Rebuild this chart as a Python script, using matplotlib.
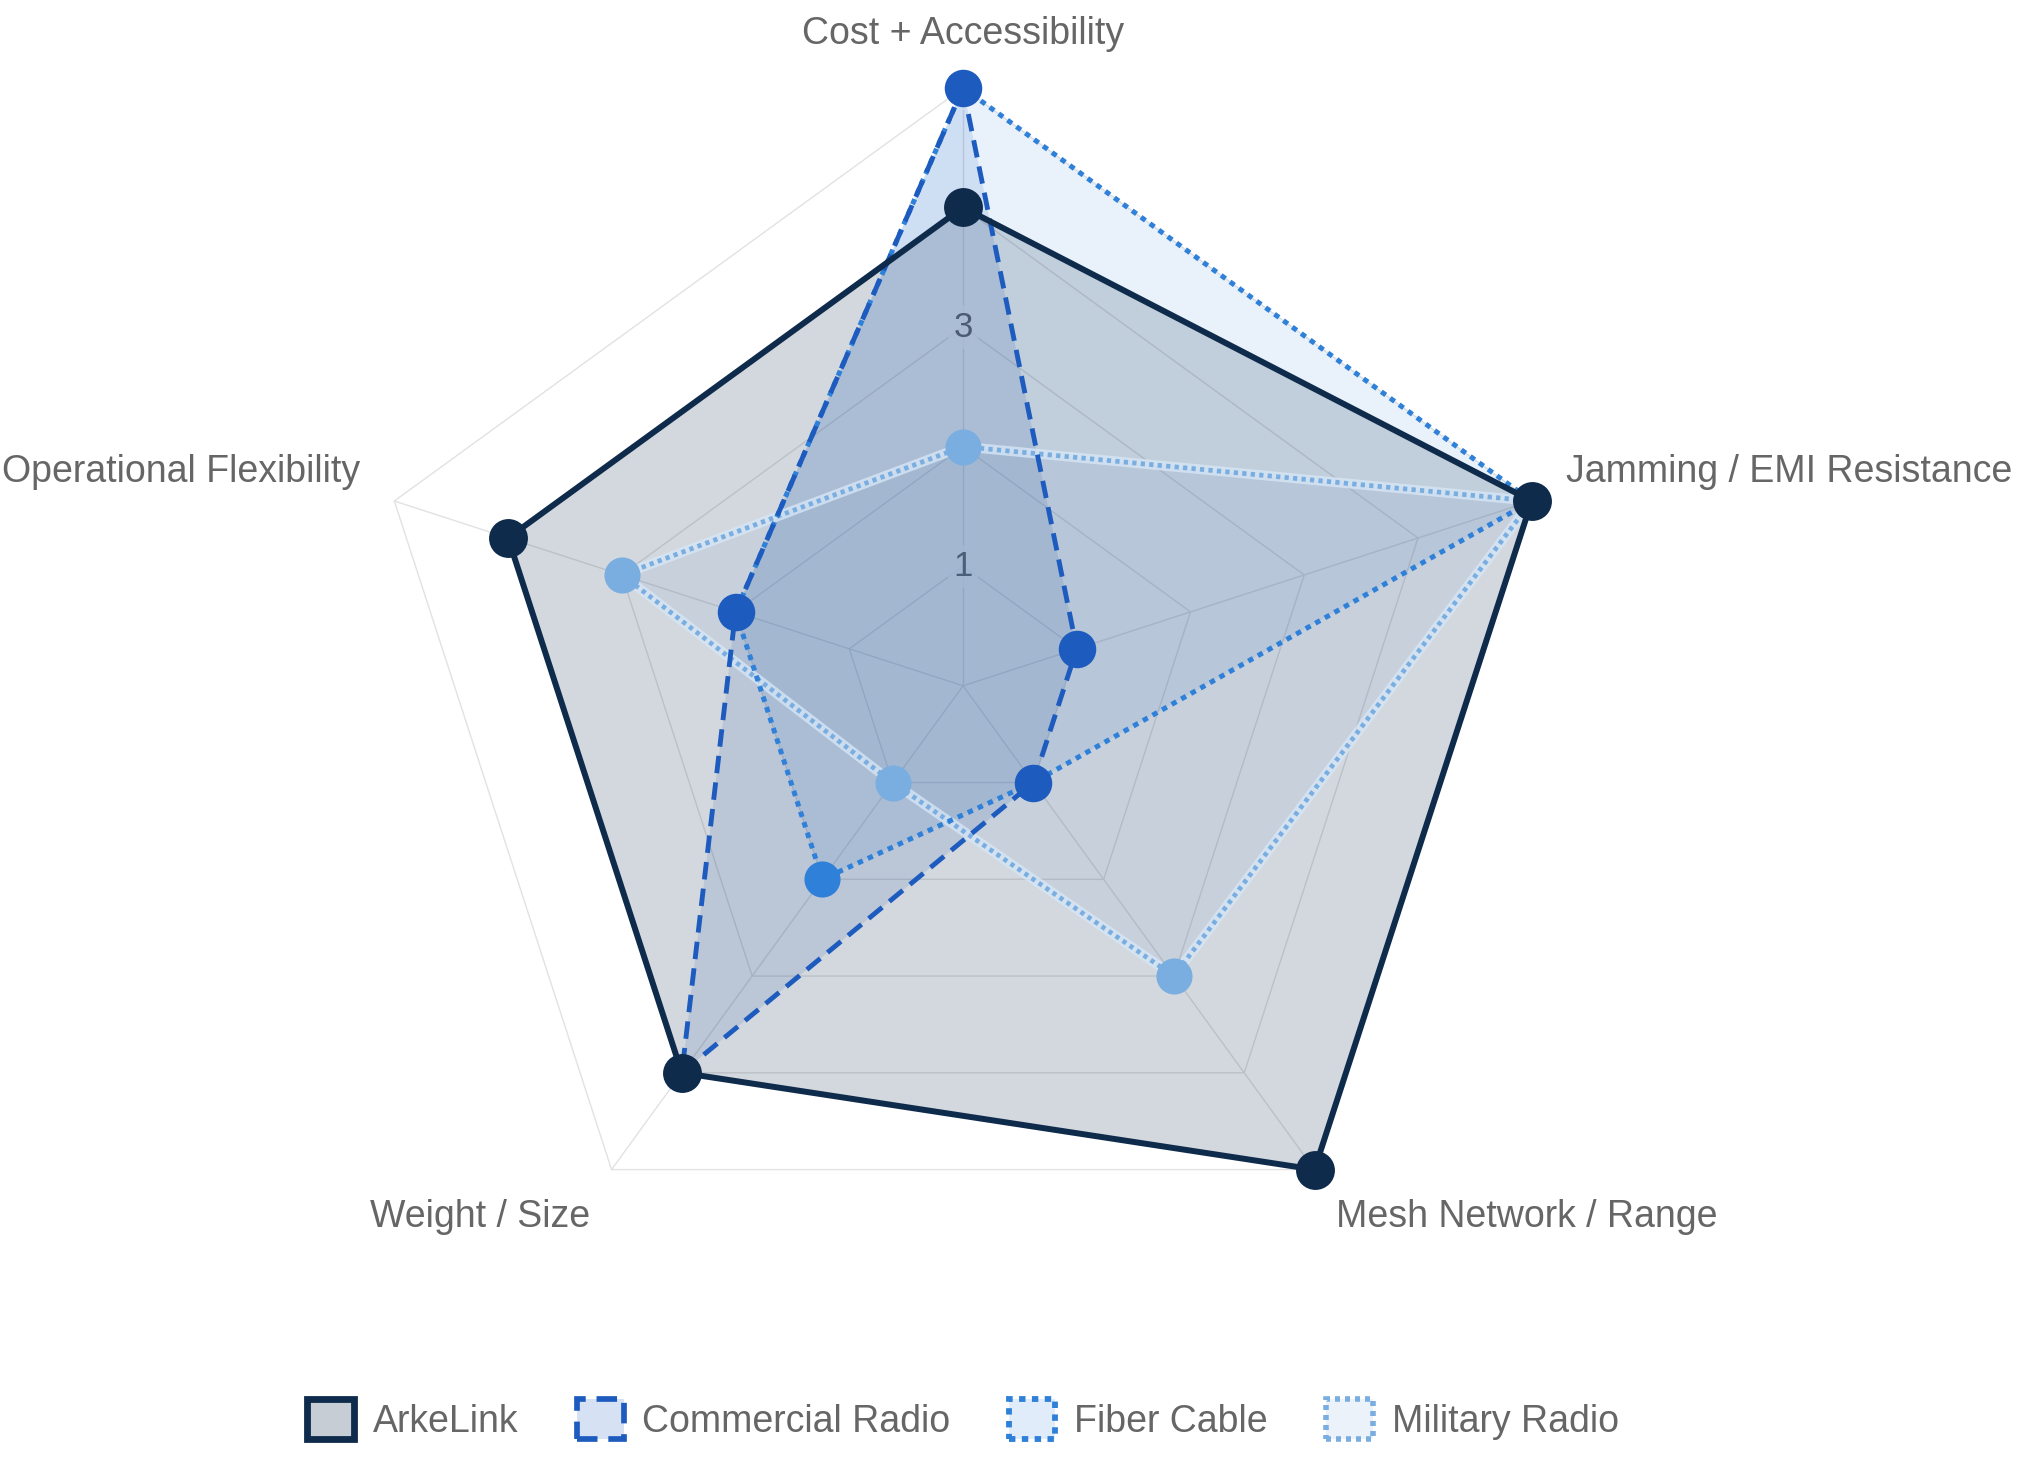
import numpy as np
import matplotlib
matplotlib.use("Agg")
import matplotlib.pyplot as plt
from matplotlib.patches import Patch

plt.rcParams['font.family'] = ['Liberation Sans', 'DejaVu Sans']

# data
categories = ["Cost + Accessibility", "Jamming / EMI Resistance", "Mesh Network / Range",
              "Weight / Size", "Operational Flexibility"]
arkelink = [4, 5, 5, 4, 4]
commercial_radio = [5, 1, 1, 4, 2]
fiber_cable = [5, 5, 1, 2, 2]
military_radio = [2, 5, 3, 1, 3]
series_names = ["ArkeLink", "Commercial Radio", "Fiber Cable", "Military Radio"]
tick_values = [1, 2, 3, 4, 5]
tick_labels_shown = [1, 3, 5]

# styles
styles = {
    "ArkeLink":         dict(color="#0f2b4c", ls="-",             lw=4.3, alpha=0.18, ms=28, z=8),
    "Commercial Radio": dict(color="#1d5bbf", ls=(0, (3.6, 1.9)), lw=3.5, alpha=0.13, ms=27, z=7),
    "Fiber Cable":      dict(color="#2f80d8", ls=(0, (1.1, 1.1)), lw=3.6, alpha=0.10, ms=26, z=6),
    "Military Radio":   dict(color="#7aaee0", ls=(0, (0.9, 0.9)), lw=3.4, alpha=0.10, ms=26, z=5),
}

n = len(categories)
angles = np.linspace(0, 2 * np.pi, n, endpoint=False)
closed = np.concatenate([angles, angles[:1]])

fig = plt.figure(figsize=(20.36, 14.59), dpi=100)
ax = fig.add_axes([0.1793, 0.1201, 0.5874, 0.8197], projection="polar")
ax.set_theta_offset(np.pi / 2)
ax.set_theta_direction(-1)
ax.set_ylim(0, 5)
ax.set_axis_off()

# polygon grid
grid_col = "#e2e2e2"
for v in tick_values:
    ax.plot(closed, [v] * (n + 1), color=grid_col, lw=1.0, zorder=0.3, clip_on=False)
for a in angles:
    ax.plot([a, a], [0, 5], color=grid_col, lw=1.0, zorder=0.3, clip_on=False)

for v in tick_labels_shown:
    ax.text(0, v, str(v), ha="center", va="center", fontsize=25, color="#666666", zorder=0.5,
            bbox=dict(boxstyle="square,pad=0.15", fc="white", ec="none", alpha=0.75))

values = {"ArkeLink": arkelink, "Commercial Radio": commercial_radio,
          "Fiber Cable": fiber_cable, "Military Radio": military_radio}

for name in series_names:
    s = styles[name]
    vals = values[name] + values[name][:1]
    ax.fill(closed, vals, color=s["color"], alpha=s["alpha"], lw=0, zorder=s["z"] - 4)
    if name == "Military Radio":
        # pale halo under the dotted line
        ax.plot(closed, vals, color="#d6e6f6", lw=7, alpha=0.8, zorder=s["z"] - 0.2,
                clip_on=False)
    ax.plot(closed, vals, color=s["color"], ls=s["ls"], lw=s["lw"], zorder=s["z"], clip_on=False)
    ax.plot(angles, values[name], "o", color=s["color"], ms=s["ms"], mec="none",
            zorder=s["z"] + 0.5, clip_on=False)

# category labels
label_r = 5.3
for a, lab in zip(angles, categories):
    deg = np.degrees(a)
    if deg < 1:
        ha, va = "center", "bottom"
    elif deg < 90:
        ha, va = "left", "bottom"
    elif deg < 180:
        ha, va = "left", "top"
    elif deg < 270:
        ha, va = "right", "top"
    else:
        ha, va = "right", "bottom"
    ax.text(a, label_r, lab, ha=ha, va=va, fontsize=27, color="#666666")

# legend
handles = []
for name in series_names:
    s = styles[name]
    handles.append(Patch(facecolor=matplotlib.colors.to_rgba(s["color"], s["alpha"] + 0.05),
                         edgecolor=s["color"], linestyle=s["ls"], linewidth=s["lw"] + 0.6))
leg = fig.legend(handles, series_names, loc="center", bbox_to_anchor=(0.473, 0.027),
                 ncol=4, frameon=False, fontsize=27, handlelength=1.25, handleheight=1.25,
                 handletextpad=0.5, columnspacing=1.55, labelcolor="#666666")

fig.savefig("out.png", dpi=100)
